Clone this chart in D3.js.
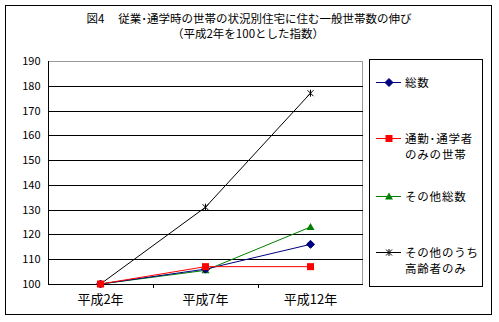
<!DOCTYPE html>
<html><head><meta charset="utf-8">
<script src="https://cdn.jsdelivr.net/npm/d3@7"></script>
<style>body{margin:0;background:#fff}svg{display:block}text{font-family:"Noto Sans CJK JP",sans-serif;fill:#000}</style>
</head><body><svg id="c" width="499" height="322"></svg>
<script>
const categories = ["平成2年","平成7年","平成12年"];
const yTicks = [100,110,120,130,140,150,160,170,180,190];
const seriesNames = [["総数"],["通勤･通学者","のみの世帯"],["その他総数"],["その他のうち","高齢者のみ"]];
const sougou = [100,106,116];
const tsukin = [100,107,107];
const sonota = [100,105.5,123];
const koreisha = [100,131,177];
const colors = ["#000080","#ff0000","#008000","#000000"];
const markers = ["diamond","square","triangle","asterisk"];
const allSeries = [sougou,tsukin,sonota,koreisha];

const svg = d3.select("#c");
svg.append("rect").attr("x",5.5).attr("y",5.5).attr("width",486).attr("height",309).attr("fill","none").attr("stroke","#000");

svg.append("text").attr("x",249).attr("y",23).attr("text-anchor","middle").attr("font-size",11.5).text("図4　 従業･通学時の世帯の状況別住宅に住む一般世帯数の伸び");
svg.append("text").attr("x",248).attr("y",38).attr("text-anchor","middle").attr("font-size",11.5).text("（平成2年を100とした指数）");

const L=48, R=363, T=61, B=284;
const x = d3.scaleBand().domain(categories).range([L,R]);
const y = d3.scaleLinear().domain([100,190]).range([B,T]);

svg.append("rect").attr("x",L+0.5).attr("y",T+0.5).attr("width",R-L-1).attr("height",B-T).attr("fill","none").attr("stroke","#999");
svg.append("g").selectAll("line").data(yTicks.filter(d=>d>100&&d<190)).join("line")
  .attr("x1",L).attr("x2",R).attr("y1",d=>Math.round(y(d))+0.5).attr("y2",d=>Math.round(y(d))+0.5).attr("stroke","#000");

const yAxis = svg.append("g").attr("transform",`translate(${L+0.5},0)`)
  .call(d3.axisLeft(y).tickValues(yTicks).tickSize(0).tickPadding(8).tickFormat(d3.format("d")));
yAxis.select(".domain").attr("stroke","#000").attr("d",`M0,${T}V${B+0.5}`);
yAxis.selectAll("text").attr("font-size",11).attr("font-family","Liberation Sans, Arial, sans-serif");

const xAxis = svg.append("g").attr("transform",`translate(0,${B+0.5})`)
  .call(d3.axisBottom(x).tickSize(0).tickPadding(10));
xAxis.select(".domain").attr("stroke","#000").attr("d",`M${L},0H${R}`);
xAxis.selectAll("text").attr("font-size",13);
svg.append("g").selectAll("line").data(categories.slice(1)).join("line")
  .attr("x1",d=>Math.round(x(d))+0.5).attr("x2",d=>Math.round(x(d))+0.5).attr("y1",B).attr("y2",B+4).attr("stroke","#000");

function marker(g, type, color, cx, cy){
  if(type==="diamond") g.append("path").attr("d",`M${cx},${cy-4}L${cx+4},${cy}L${cx},${cy+4}L${cx-4},${cy}Z`).attr("fill",color).attr("stroke",color);
  else if(type==="square") g.append("rect").attr("x",cx-3.5).attr("y",cy-3.5).attr("width",7).attr("height",7).attr("fill",color);
  else if(type==="triangle") g.append("path").attr("d",`M${cx},${cy-4}L${cx+4},${cy+3}L${cx-4},${cy+3}Z`).attr("fill",color);
  else {
    g.append("path").attr("d",`M${cx-3},${cy-3}L${cx+3},${cy+3}M${cx+3},${cy-3}L${cx-3},${cy+3}M${cx},${cy-3.5}V${cy+3.5}`).attr("stroke",color).attr("stroke-width",1).attr("fill","none");
  }
}

const line = d3.line().x((d,i)=>x(categories[i])+x.bandwidth()/2).y(d=>y(d));
const order=[3,2,0,1];
order.forEach(s=>{
  const g=svg.append("g");
  g.append("path").attr("d",line(allSeries[s])).attr("fill","none").attr("stroke",colors[s]).attr("stroke-width",1);
  allSeries[s].forEach((v,i)=>marker(g,markers[s],colors[s],x(categories[i])+x.bandwidth()/2,y(v)));
});

svg.append("rect").attr("x",369.5).attr("y",59.5).attr("width",113).attr("height",227).attr("fill","#fff").attr("stroke","#000");
const legY=[82,138,196,252];
seriesNames.forEach((names,i)=>{
  const g=svg.append("g");
  g.append("line").attr("x1",376).attr("x2",401).attr("y1",legY[i]+0.5).attr("y2",legY[i]+0.5).attr("stroke",colors[i]);
  marker(g,markers[i],colors[i],389,legY[i]+0.5);
  names.forEach((n,j)=>g.append("text").attr("x",405).attr("y",legY[i]+5+j*16).attr("font-size",11.5).attr("letter-spacing",0.8).text(n));
});
</script></body></html>
